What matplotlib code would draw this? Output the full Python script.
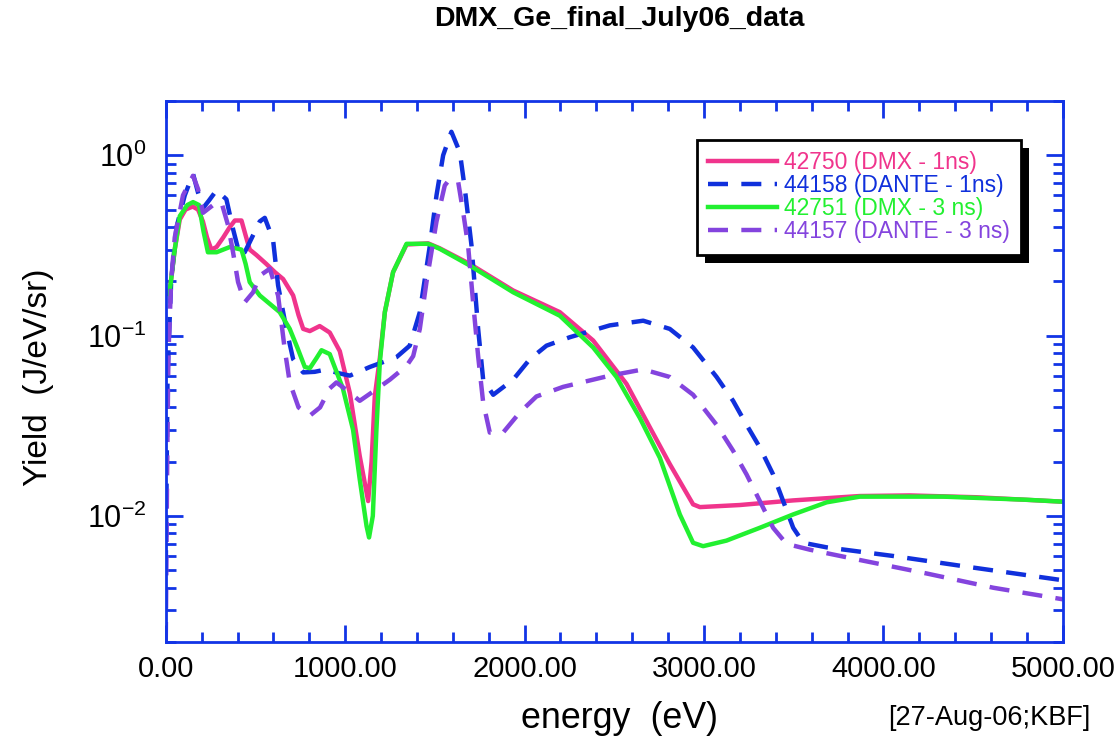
#!/usr/bin/env python3
"""DMX vs DANTE Ge yield spectra (July 06 shots), log-y."""

import matplotlib

matplotlib.use("Agg")
import matplotlib.pyplot as plt  # noqa: E402
from matplotlib.patches import Rectangle  # noqa: E402
from matplotlib.ticker import FormatStrFormatter, LogLocator, MultipleLocator, NullFormatter  # noqa: E402

plt.rcParams["font.family"] = ["Liberation Sans", "DejaVu Sans"]
plt.rcParams["axes.unicode_minus"] = False

# 42750 (DMX - 1ns)
e_42750 = [20, 26, 50, 78, 110, 150, 180, 207, 230, 254, 283, 320, 357, 385, 422, 445, 468, 505,
           560, 608, 654, 710, 740, 766, 803, 858, 914, 970, 1026, 1081, 1128, 1147, 1165, 1193,
           1221, 1267, 1342, 1462, 1527, 1694, 1936, 2196, 2382, 2568, 2698, 2809, 2939, 2977,
           3199, 3497, 3868, 4147, 4519, 5000]
y_42750 = [0.17, 0.19, 0.30, 0.44, 0.50, 0.52, 0.50, 0.43, 0.35, 0.30, 0.31, 0.35, 0.40, 0.435,
           0.435, 0.36, 0.30, 0.28, 0.25, 0.225, 0.206, 0.167, 0.13, 0.109, 0.106, 0.113, 0.104,
           0.082, 0.048, 0.0215, 0.0121, 0.020, 0.046, 0.075, 0.135, 0.225, 0.32, 0.325, 0.305,
           0.25, 0.178, 0.135, 0.094, 0.054, 0.031, 0.0194, 0.0116, 0.0112, 0.0115, 0.0122,
           0.0129, 0.013, 0.0127, 0.012]

# 44158 (DANTE - 1ns)
e_44158 = [0, 10, 30, 60, 106, 152, 180, 208, 240, 283, 338, 375, 412, 440, 468, 524, 552, 598,
           626, 672, 710, 766, 830, 896, 960, 1026, 1137, 1286, 1360, 1416, 1472, 1509, 1546,
           1592, 1639, 1667, 1704, 1741, 1769, 1825, 1936, 2029, 2122, 2252, 2475, 2661, 2809,
           2939, 3070, 3162, 3237, 3311, 3385, 3441, 3497, 3553, 3683, 4054, 4426, 5000]
y_44158 = [0.005, 0.06, 0.2, 0.4, 0.60, 0.79, 0.62, 0.51, 0.56, 0.64, 0.57, 0.39, 0.28, 0.29,
           0.33, 0.43, 0.45, 0.34, 0.19, 0.109, 0.074, 0.0625, 0.063, 0.065, 0.062, 0.060, 0.067,
           0.076, 0.088, 0.135, 0.316, 0.60, 1.0, 1.35, 1.04, 0.65, 0.316, 0.109, 0.057, 0.047,
           0.057, 0.074, 0.088, 0.098, 0.114, 0.121, 0.109, 0.086, 0.059, 0.0435, 0.032, 0.024,
           0.017, 0.0121, 0.0086, 0.0071, 0.0067, 0.0060, 0.0053, 0.0044]

# 42751 (DMX - 3 ns)
e_42751 = [20, 26, 50, 78, 120, 152, 185, 210, 235, 283, 357, 422, 445, 468, 524, 580, 635, 691,
           735, 775, 803, 840, 868, 914, 987, 1044, 1081, 1119, 1133, 1154, 1174, 1193, 1221,
           1267, 1342, 1462, 1527, 1694, 1936, 2196, 2382, 2512, 2642, 2754, 2865, 2939, 2995,
           3125, 3311, 3497, 3683, 3868, 4333, 4797, 5000]
y_42751 = [0.17, 0.19, 0.30, 0.46, 0.53, 0.55, 0.53, 0.38, 0.29, 0.29, 0.31, 0.30, 0.25, 0.198,
           0.167, 0.15, 0.135, 0.109, 0.085, 0.067, 0.066, 0.075, 0.083, 0.079, 0.051, 0.030,
           0.016, 0.0088, 0.0076, 0.010, 0.030, 0.071, 0.135, 0.225, 0.323, 0.323, 0.303, 0.245,
           0.174, 0.129, 0.086, 0.059, 0.035, 0.021, 0.0102, 0.0071, 0.0068, 0.0073, 0.0086,
           0.0102, 0.0119, 0.0128, 0.0128, 0.0123, 0.012]

# 44157 (DANTE - 3 ns)
e_44157 = [0, 8, 15, 30, 50, 96, 152, 180, 208, 264, 310, 347, 375, 403, 440, 487, 524, 580, 626,
           663, 691, 740, 803, 860, 914, 951, 1007, 1081, 1156, 1249, 1342, 1379, 1416, 1453,
           1509, 1555, 1583, 1630, 1658, 1685, 1713, 1741, 1769, 1806, 1880, 1973, 2066, 2215,
           2475, 2661, 2809, 2939, 3070, 3162, 3237, 3311, 3385, 3460, 3590, 3868, 4240, 4612,
           5000]
y_44157 = [0.002, 0.02, 0.08, 0.2, 0.35, 0.60, 0.77, 0.65, 0.48, 0.53, 0.55, 0.41, 0.29, 0.198,
           0.153, 0.174, 0.215, 0.235, 0.167, 0.084, 0.055, 0.040, 0.036, 0.040, 0.051, 0.055,
           0.050, 0.0435, 0.049, 0.057, 0.068, 0.077, 0.109, 0.198, 0.43, 0.68, 0.74, 0.71, 0.48,
           0.316, 0.153, 0.077, 0.0426, 0.029, 0.029, 0.0375, 0.046, 0.052, 0.060, 0.065, 0.059,
           0.047, 0.032, 0.023, 0.017, 0.0121, 0.0086, 0.0070, 0.0065, 0.0057, 0.0048, 0.0040,
           0.00345]

labels = ["42750 (DMX - 1ns)", "44158 (DANTE - 1ns)", "42751 (DMX - 3 ns)", "44157 (DANTE - 3 ns)"]
colors = ["#F0348C", "#1030DC", "#22F030", "#8444DE"]
AXIS_BLUE = "#1234E6"


def main():
    fig = plt.figure(figsize=(11.2, 7.4), dpi=100)
    ax = fig.add_axes([0.148, 0.1324, 0.801, 0.7311])

    series = [(e_42750, y_42750), (e_44158, y_44158), (e_42751, y_42751), (e_44157, y_44157)]
    dashed = [False, True, False, True]
    for (e, y), lab, col, dsh in zip(series, labels, colors, dashed):
        kw = dict(dashes=(4.5, 3)) if dsh else {}
        ax.plot(e, y, color=col, lw=3.2, label=lab, **kw)

    ax.set_yscale("log")
    ax.set_xlim(0, 5000)
    ax.set_ylim(0.002, 2.0)

    ax.xaxis.set_major_locator(MultipleLocator(1000))
    ax.xaxis.set_minor_locator(MultipleLocator(200))
    ax.xaxis.set_major_formatter(FormatStrFormatter("%.2f"))
    ax.yaxis.set_major_locator(LogLocator(base=10))
    ax.yaxis.set_minor_locator(LogLocator(base=10, subs=range(2, 10)))
    ax.yaxis.set_minor_formatter(NullFormatter())

    for sp in ax.spines.values():
        sp.set_color(AXIS_BLUE)
        sp.set_linewidth(2)
    ax.tick_params(which="both", direction="in", color=AXIS_BLUE, width=2,
                   top=True, right=True, labelsize=21, labelcolor="black")
    ax.tick_params(axis="y", which="major", length=12, pad=14, labelsize=22)
    ax.tick_params(axis="y", which="minor", length=7)
    ax.tick_params(axis="x", which="major", length=12, pad=9)
    ax.tick_params(axis="x", which="minor", length=7)

    leg = ax.legend(loc="upper left", bbox_to_anchor=(0.592, 0.928), borderaxespad=0,
                    fontsize=16.5, handlelength=3.0, handletextpad=0.3, labelspacing=0.0,
                    borderpad=0.5, fancybox=False, framealpha=1, edgecolor="black")
    leg.get_frame().set_linewidth(2)
    for txt, col in zip(leg.get_texts(), colors):
        txt.set_color(col)

    fig.text(0.553, 0.975, "DMX_Ge_final_July06_data", ha="center", va="center",
             fontsize=20.5, fontweight="bold")
    fig.text(0.034, 0.49, "Yield  (J/eV/sr)", rotation=90, ha="center", va="center", fontsize=24)
    fig.text(0.553, 0.029, "energy  (eV)", ha="center", va="center", fontsize=25.8)
    fig.text(0.883, 0.0297, "[27-Aug-06;KBF]", ha="center", va="center", fontsize=19.5)

    # hard black drop shadow behind the legend box
    fig.canvas.draw()
    bb = leg.get_window_extent().transformed(ax.transAxes.inverted())
    off_x, off_y = 8 / (ax.bbox.width), 8 / (ax.bbox.height)
    ax.add_patch(Rectangle((bb.x0 + off_x, bb.y0 - off_y), bb.width, bb.height,
                           transform=ax.transAxes, facecolor="black", edgecolor="none",
                           zorder=leg.get_zorder() - 0.1, clip_on=False))

    fig.savefig("out.png", dpi=100)
    plt.close(fig)


if __name__ == "__main__":
    main()
